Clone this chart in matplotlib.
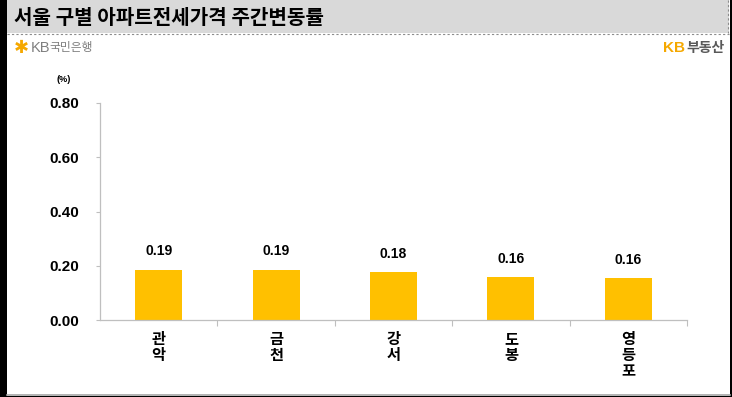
import matplotlib.pyplot as plt
from matplotlib.patches import Rectangle

districts = ["관\n악", "금\n천", "강\n서", "도\n봉", "영\n등\n포"]
changes = [0.186, 0.186, 0.178, 0.157, 0.156]
yticks = [0.0, 0.2, 0.4, 0.6, 0.8]

W, H = 732, 397
KR = ["Noto Sans CJK KR", "DejaVu Sans"]
NUM = "Liberation Sans"

fig = plt.figure(figsize=(W / 100, H / 100), dpi=100)
fig.patch.set_facecolor("black")

# frame / header drawn in pixel space
bg = fig.add_axes([0, 0, 1, 1])
bg.set_xlim(0, W)
bg.set_ylim(H, 0)
bg.axis("off")
bg.add_patch(Rectangle((7, 0), 723, 396, facecolor="white", edgecolor="none"))
bg.add_patch(Rectangle((7, 0), 722, 33, facecolor="#D9D9D9", edgecolor="none"))
bg.plot([7, 729], [33.5, 33.5], color="#8C8C8C", lw=0.8, ls=(0, (2, 2)))
bg.plot([727.5, 727.5], [0, 33], color="#8C8C8C", lw=0.8, ls=(0, (2, 2)))
bg.plot([7, 730], [395, 395], color="#A6A6A6", lw=1.2)

bg.text(14, 17, "서울 구별 아파트전세가격 주간변동률", family=KR, fontsize=14.5,
        fontweight="black", va="center", ha="left", color="black")
bg.text(14, 48, "✱", family=["DejaVu Sans"], fontsize=13, color="#F5A800",
        va="center", ha="left")
bg.text(31, 48, "KB", family=NUM, fontsize=10.5, color="#7F7F7F", va="center")
bg.text(49, 48, "국민은행", family=KR, fontsize=8.5, color="#7F7F7F", va="center")
bg.text(663, 48, "KB", family=NUM, fontsize=11, fontweight="bold",
        color="#F5A800", va="center")
bg.text(686, 48, "부동산", family=KR, fontsize=10, fontweight="bold",
        color="#595959", va="center")
bg.text(64, 79, "(%)", family=NUM, fontsize=6.5, fontweight="bold", ha="center",
        va="center")

ax = fig.add_axes([100 / W, (H - 320) / H, 587 / W, 217 / H])
ax.set_facecolor("none")
x = list(range(len(districts)))
bars = ax.bar(x, changes, width=0.4, color="#FFC000")
for b, v in zip(bars, changes):
    ax.annotate(f"{v:.2f}", (b.get_x() + b.get_width() / 2, v), xytext=(0, 8),
                textcoords="offset points", ha="center", va="bottom",
                family=NUM, fontsize=10, fontweight="bold")

ax.set_xlim(-0.5, len(districts) - 0.5)
ax.set_ylim(0, 0.8)
ax.set_yticks(yticks)
ax.set_yticklabels([f"{t:.2f}" for t in yticks], family=NUM, fontsize=11,
                   fontweight="bold")
ax.set_xticks(x)
ax.set_xticklabels(districts, family=KR, fontsize=11, fontweight="bold",
                   linespacing=1.0, va="top")
ax.set_xticks([i + 0.5 for i in range(len(districts))], minor=True)
ax.tick_params(axis="x", which="major", length=0, pad=8)
ax.tick_params(axis="x", which="minor", length=4, color="#BFBFBF", width=0.8)
ax.tick_params(axis="y", length=3, color="#BFBFBF", width=0.8, pad=12)
for s in ["top", "right"]:
    ax.spines[s].set_visible(False)
for s in ["left", "bottom"]:
    ax.spines[s].set_color("#BFBFBF")
    ax.spines[s].set_linewidth(0.9)

fig.savefig("out.png", dpi=100, facecolor=fig.get_facecolor())
